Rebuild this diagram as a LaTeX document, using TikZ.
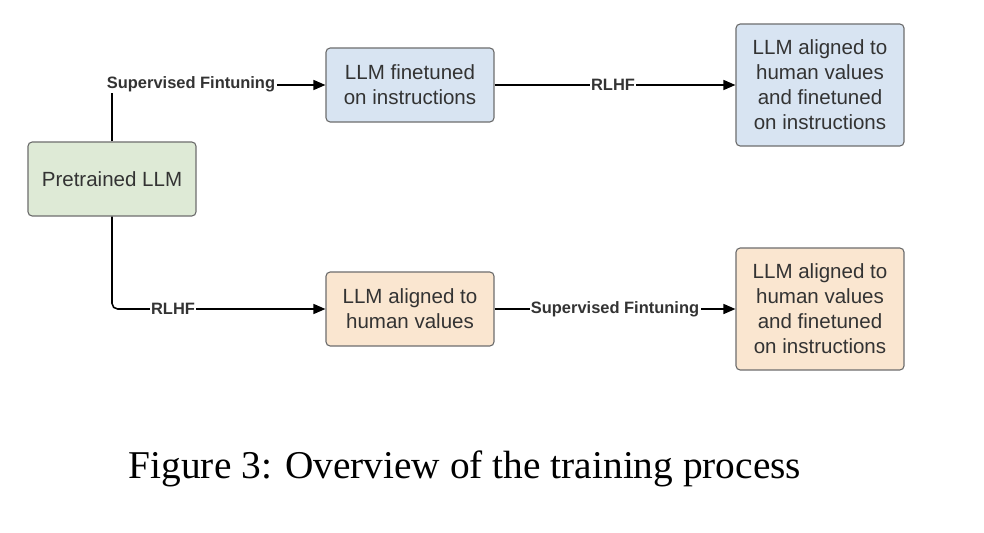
\documentclass[tikz,border=0pt]{standalone}
\usepackage{fontspec}
\setmainfont{Liberation Serif}
\setsansfont{Liberation Sans}
\usetikzlibrary{arrows.meta, positioning}
\definecolor{cBlue}{RGB}{216,228,242}
\definecolor{cGreen}{RGB}{222,234,214}
\definecolor{cOrange}{RGB}{250,230,208}
\definecolor{cEdge}{RGB}{110,110,110}
\definecolor{cText}{RGB}{51,51,51}
\tikzset{
	model/.style   ={rectangle, rounded corners=3pt, draw=cEdge, line width=0.8pt, minimum width=4.2cm, minimum height=1.85cm, align=center, text=cText, font=\sffamily\fontsize{14.6}{17.8}\selectfont},
	tallmodel/.style={model, minimum height=3.05cm},
	steplabel/.style={fill=white, inner sep=1pt, text=cText, font=\sffamily\bfseries\fontsize{11.7}{14}\selectfont},
	flow/.style    ={-{Triangle[length=3mm, width=2.5mm]}, line width=1.1pt, black},
}

\begin{document}
\begin{tikzpicture}[x=0.025cm, y=-0.025cm]
	\useasboundingbox (0,0) rectangle (984,532);
	% models
	\node[model, fill=cGreen] (pre) at (112,179) {Pretrained LLM};
	\node[model, fill=cBlue] (sft) at (410,85) {LLM finetuned\\on instructions};
	\node[tallmodel, fill=cBlue] (sftrl) at (820,85) {LLM aligned to\\human values\\and finetuned\\on instructions};
	\node[model, fill=cOrange] (rl) at (410,309) {LLM aligned to\\human values};
	\node[tallmodel, fill=cOrange] (rlsft) at (820,309) {LLM aligned to\\human values\\and finetuned\\on instructions};
	% connectors
	\draw[flow] (pre.north) |- (sft.west);
	\draw[flow, rounded corners=4pt] (pre.south) |- (rl.west);
	\draw[flow] (sft.east) -- (sftrl.west);
	\draw[flow] (rl.east) -- (rlsft.west);
	% step labels
	\node[steplabel] (l1) at (191,84) {Supervised Fintuning};
	\node[steplabel] (l2) at (173,309) {RLHF};
	\node[steplabel] (l3) at (613,85) {RLHF};
	\node[steplabel] (l4) at (615,309) {Supervised Fintuning};
	% caption
	\node[font=\fontsize{28}{32}\selectfont] (cap) at (465,469) {Figure 3: Overview of the training process};
\end{tikzpicture}
\end{document}
